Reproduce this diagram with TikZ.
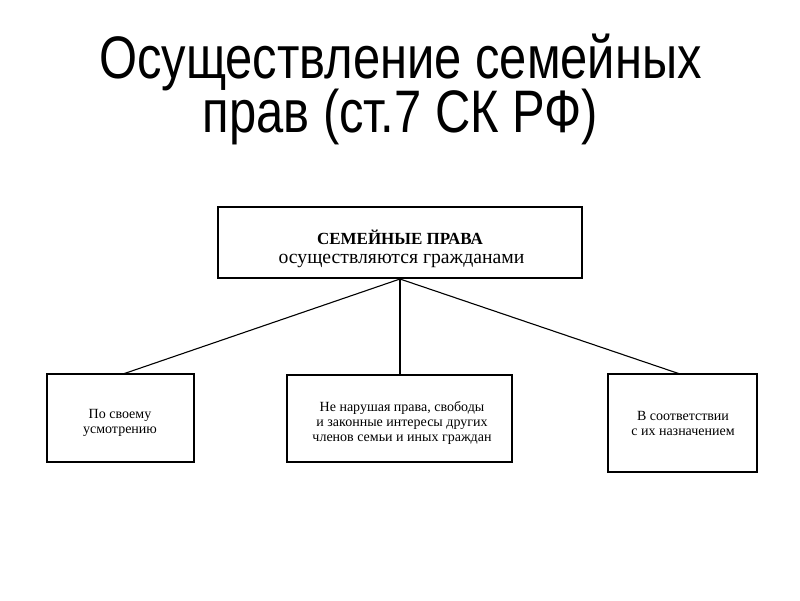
\documentclass[tikz,border=0pt]{standalone}
\usepackage{fontspec}
\setmainfont{Liberation Serif}
\newfontfamily\titlefont{Liberation Sans}
\begin{document}
\begin{tikzpicture}[x=1pt,y=-1pt,
  box/.style={draw=black,line width=1.6pt},
  conn/.style={draw=black,line width=1.1pt},
  btxt/.style={align=center,font=\fontsize{14}{15}\selectfont,inner sep=0pt}]
\useasboundingbox[fill=white] (0,0) rectangle (800,600);
\node[font={\titlefont\fontsize{60}{54}\selectfont\lineskiplimit=-100pt\relax},align=center,anchor=base,inner sep=0pt] (title) at (400.5,132)
  {\scalebox{0.815}[1]{Осуществление семейных}\\\scalebox{0.815}[1]{прав (ст.7 СК РФ)}};
\draw[box] (218,207) rectangle (582,278);
\node[inner sep=0pt,anchor=base,font=\fontsize{17}{20}\selectfont\bfseries] (top1) at (400,244) {СЕМЕЙНЫЕ ПРАВА};
\node[inner sep=0pt,anchor=base,font=\fontsize{19.7}{20}\selectfont] (top2) at (401.5,263) {осуществляются гражданами};
\coordinate (apex) at (400,279);
\draw[box] (47,374) rectangle (194,462);
\coordinate (lt) at (123,374);
\node[btxt] (l) at (120,422.5) {По своему\\усмотрению};
\draw[box] (287,375) rectangle (512,462);
\coordinate (mt) at (400,375);
\node[btxt] (m) at (402,423) {Не нарушая права, свободы\\и законные интересы других\\членов семьи и иных граждан};
\draw[box] (608,374) rectangle (757,472);
\coordinate (rt) at (680,374);
\node[btxt] (r) at (683,423.5) {В соответствии\\с их назначением};
\draw[conn] (apex) -- (lt);
\draw[conn] (apex) -- (mt);
\draw[conn] (apex) -- (rt);
\end{tikzpicture}
\end{document}
